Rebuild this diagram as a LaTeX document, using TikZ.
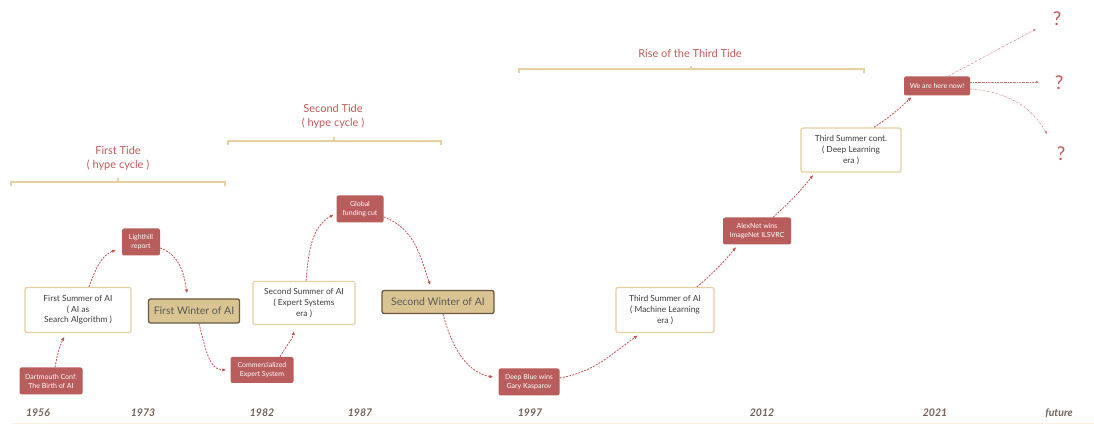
\documentclass[tikz,border=0pt]{standalone}
\usepackage{fontspec}
\setmainfont{Lato}
\usepackage{xcolor}
\usetikzlibrary{arrows.meta}
\definecolor{evred}{RGB}{184,92,92}
\definecolor{arrred}{RGB}{190,84,84}
\definecolor{tidered}{RGB}{192,88,88}
\definecolor{tan}{RGB}{228,208,160}
\definecolor{winfill}{RGB}{218,196,145}
\definecolor{winbrd}{RGB}{105,88,68}
\definecolor{darktext}{RGB}{60,60,60}
\definecolor{yeargray}{RGB}{112,98,88}
\definecolor{baseln}{RGB}{247,241,226}

\begin{document}
\begin{tikzpicture}[x=1pt,y=1pt,
    event/.style={shape=rectangle, rounded corners=2pt, fill=evred, text=white, align=center, inner sep=1pt, font=\fontsize{7}{9}\selectfont},
    era/.style={shape=rectangle, rounded corners=2pt, draw=tan, line width=1.2pt, fill=white, text=darktext, align=center, inner sep=1pt, font=\fontsize{8.4}{10.7}\selectfont},
    winter/.style={shape=rectangle, rounded corners=2pt, draw=winbrd, line width=1.3pt, fill=winfill, text=darktext!85, inner sep=1pt, font=\fontsize{10.5}{12}\selectfont},
    tide/.style={text=tidered, align=center, font=\fontsize{11}{14}\selectfont},
    year/.style={text=yeargray, font=\fontsize{10.5}{12}\selectfont\bfseries\itshape},
    guessmark/.style={text=tidered, font=\fontsize{19}{20}\selectfont},
    flow/.style={draw=arrred, line width=0.8pt, dash pattern=on 2pt off 1.2pt, -{Latex[length=4pt,width=3.5pt]}},
    guess/.style={draw=arrred!80, line width=0.45pt, dash pattern=on 2pt off 1pt on 0.4pt off 1pt, -{Latex[length=3pt,width=2.5pt]}},
    brace/.style={draw=tan, line width=1.2pt}]
    \useasboundingbox (0,0) rectangle (1094,425);

    \node[tide] (tide1) at (118,267) {First Tide\\( hype cycle )};
    \draw[brace] (11,239) -- (11,243) -- (225,243) -- (225,239);
    \draw[brace] (118,243) -- (118,247);
    \node[tide] (tide2) at (333,309) {Second Tide\\( hype cycle )};
    \draw[brace] (228,280) -- (228,284) -- (441,284) -- (441,280);
    \draw[brace] (334,284) -- (334,288);
    \node[tide] (tide3) at (690,372) {Rise of the Third Tide};
    \draw[brace] (519,352) -- (519,356) -- (864,356) -- (864,352);
    \draw[brace] (691,356) -- (691,359);

    \node[event, minimum width=63, minimum height=27] (dart) at (51,44) {Dartmouth Conf.\\The Birth of AI};
    \node[era, minimum width=106, minimum height=45] (sum1) at (78,115) {First Summer of AI\\( AI as\\Search Algorithm )};
    \node[event, minimum width=38, minimum height=27] (light) at (141,183) {Lighthill\\report};
    \node[winter, minimum width=91, minimum height=24] (win1) at (194,114) {First Winter of AI};
    \node[event, minimum width=63, minimum height=26] (comm) at (262,55) {Commercialized\\Expert System};
    \node[era, minimum width=102, minimum height=43] (sum2) at (304,122) {Second Summer of AI\\( Expert Systems\\era )};
    \node[event, minimum width=47, minimum height=27] (fund) at (360,216) {Global\\funding cut};
    \node[winter, minimum width=112, minimum height=23] (win2) at (438,123) {Second Winter of AI};
    \node[event, minimum width=61, minimum height=27] (deep) at (529,43) {Deep Blue wins\\Gary Kasparov};
    \node[era, minimum width=98, minimum height=45] (sum3) at (665,115) {Third Summer of AI\\( Machine Learning\\era )};
    \node[event, minimum width=68, minimum height=27] (alex) at (757,194) {AlexNet wins\\ImageNet ILSVRC};
    \node[era, minimum width=100, minimum height=44] (sum4) at (851,275) {Third Summer cont.\\( Deep Learning\\era )};
    \node[event, minimum width=66, minimum height=19] (now) at (937,339) {We are here now!};

    \node[guessmark] (q1) at (1057,406) {?};
    \node[guessmark] (q2) at (1059,342) {?};
    \node[guessmark] (q3) at (1061,271) {?};

    \draw[flow, shorten >=4pt] ([xshift=4]dart.north) to[bend left=8] ([xshift=-12]sum1.south);
    \draw[flow, shorten >=3pt] ([xshift=11]sum1.north) to[out=70,in=200] ([xshift=-3,yshift=-7]light.west);
    \draw[flow, shorten >=5pt] ([yshift=-6]light.east) to[out=-20,in=100] ([xshift=-6]win1.north);
    \draw[flow, shorten >=4pt] ([xshift=5]win1.south) to[out=-75,in=180] (comm.west);
    \draw[flow, shorten >=6pt] ([xshift=18]comm.north) to[out=60,in=260] ([xshift=-9]sum2.south);
    \draw[flow, shorten >=3pt] ([xshift=2]sum2.north) to[out=85,in=210] ([yshift=-4]fund.west);
    \draw[flow, shorten >=5pt] ([yshift=-8]fund.east) to[out=-20,in=110] ([xshift=-6]win2.north);
    \draw[flow, shorten >=5pt] ([xshift=5]win2.south) to[out=-75,in=170] ([yshift=4]deep.west);
    \draw[flow, shorten >=4pt] ([yshift=4]deep.east) to[out=10,in=215] ([xshift=-24]sum3.south);
    \draw[flow, shorten >=3pt] ([xshift=32]sum3.north) to[bend right=5] ([xshift=-19]alex.south);
    \draw[flow, shorten >=3pt] ([xshift=16]alex.north) to[bend right=5] ([xshift=-36]sum4.south);
    \draw[flow, shorten >=2pt] ([xshift=23]sum4.north) to[bend right=5] ([xshift=-24]now.south);

    \coordinate (f1) at (1036,396);
    \coordinate (f2) at (1039,343);
    \coordinate (f3) at (1047,291);
    \draw[guess] ([xshift=11]now.north) -- (f1);
    \draw[guess] ([yshift=4]now.east) -- (f2);
    \draw[guess] ([yshift=-3]now.east) to[out=-5,in=120] (f3);

    \foreach \x/\yr in {38/1956, 143/1973, 262/1982, 360/1987, 530/1997, 762/2012, 935/2021, 1059/future}
      \node[year] (y\yr) at (\x,12) {\yr};
    \draw[line width=1pt, color=baseln] (12,1) -- (1094,1);
\end{tikzpicture}
\end{document}
